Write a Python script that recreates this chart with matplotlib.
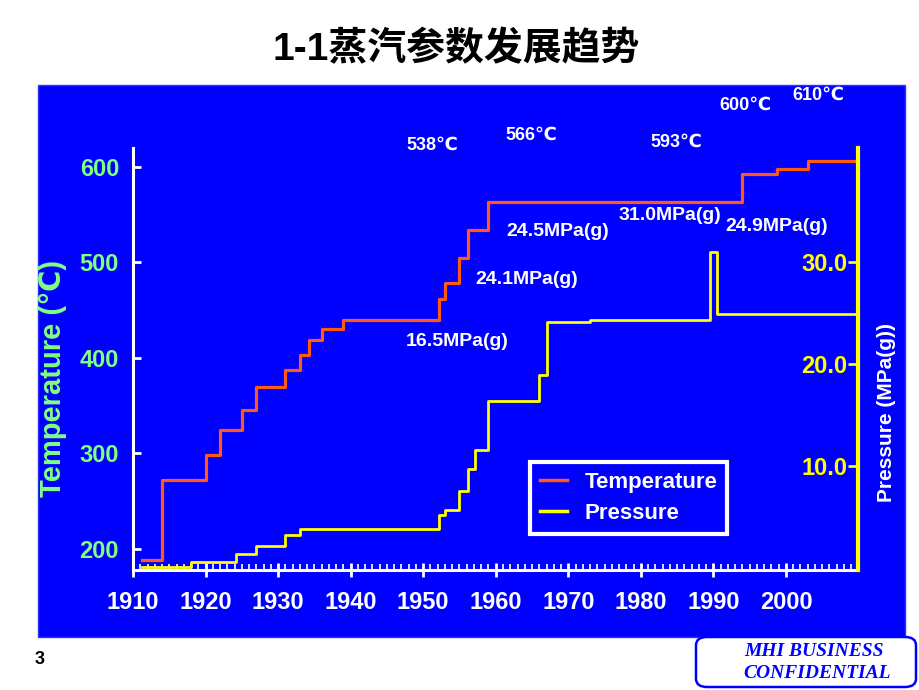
import matplotlib
matplotlib.use("Agg")
import matplotlib.pyplot as plt
from matplotlib.patches import Rectangle, FancyBboxPatch
from matplotlib.lines import Line2D
from matplotlib.ticker import MultipleLocator, FixedLocator

# ---------------- data ----------------
temp_years = [1911.2, 1914.0, 1920.0, 1922.0, 1925.0, 1927.0, 1931.0, 1933.0, 1934.2,
              1936.0, 1939.0, 1952.2, 1953.0, 1955.0, 1956.2, 1959.0, 1994.0, 1998.7,
              2003.1, 2009.6]
temp_vals = [188, 272, 298, 324, 345, 369, 387, 403, 419,
             430, 440, 461, 478, 504, 534, 563, 592, 598,
             606, 606]

press_years = [1911.2, 1918.0, 1924.2, 1927.0, 1931.0, 1933.0, 1952.2, 1953.0, 1955.0,
               1956.2, 1957.2, 1959.0, 1966.0, 1967.0, 1973.0, 1989.5, 1990.5, 2009.6]
press_vals = [0.0, 0.5, 1.3, 2.1, 3.2, 3.8, 5.1, 5.6, 7.5,
              9.7, 11.5, 16.4, 18.9, 24.1, 24.3, 31.0, 24.9, 24.9]

x_ticks = list(range(1910, 2001, 10))
temp_ticks = [200, 300, 400, 500, 600]
press_ticks = [10.0, 20.0, 30.0]

temp_labels = ["538℃", "566℃", "593℃", "600℃", "610℃"]
temp_label_pos = [(432, 145), (531, 135), (676, 142), (745, 105), (818, 95)]
press_labels = ["16.5MPa(g)", "24.1MPa(g)", "24.5MPa(g)", "31.0MPa(g)", "24.9MPa(g)"]
press_label_pos = [(457, 341), (527, 280), (558, 231), (670, 215), (777, 227)]

W, H = 920, 690
BLUE = "#0000FF"
ORANGE = "#FF5A14"
YELLOW = "#FFFF00"
GREEN = "#80FF80"
FONT = ["Liberation Sans", "DejaVu Sans"]

plt.rcParams["font.family"] = FONT
plt.rcParams["font.weight"] = "bold"


def fx(px):
    return px / W


def fy(py):
    return 1 - py / H


fig = plt.figure(figsize=(9.2, 6.9), dpi=100)
fig.patch.set_facecolor("white")

# blue panel
fig.add_artist(Rectangle((fx(38), fy(637)), fx(905) - fx(38), fy(85) - fy(637),
                         transform=fig.transFigure, facecolor=BLUE,
                         edgecolor="#3030FF", lw=1, zorder=-1))

# title
fig.text(fx(456), fy(50), "1-1蒸汽参数发展趋势", ha="center", va="center",
         fontsize=28, family=["Liberation Sans", "Noto Sans CJK SC"],
         weight="bold", color="black")

ax = fig.add_axes([fx(133), fy(570), fx(858.5) - fx(133), fy(148) - fy(570)])
ax.set_facecolor("none")
ax.step(temp_years, temp_vals, where="post", color=ORANGE, lw=2.3, zorder=3)
ax.set_xlim(1910, 2010)
ax.set_ylim(177.7, 619.6)

ax2 = ax.twinx()
ax2.step(press_years, press_vals, where="post", color=YELLOW, lw=2.0, zorder=3)
ax2.set_ylim(-0.26, 41.24)

for s in ["top", "right"]:
    ax.spines[s].set_visible(False)
for s in ["top", "left", "bottom"]:
    ax2.spines[s].set_visible(False)
ax.spines["left"].set_color("white")
ax.spines["left"].set_linewidth(2.2)
ax.spines["bottom"].set_color("white")
ax.spines["bottom"].set_linewidth(2.2)
ax2.spines["right"].set_color(YELLOW)
ax2.spines["right"].set_linewidth(3)

ax.set_xticks(x_ticks)
ax.set_xticklabels([str(t) for t in x_ticks])
ax.xaxis.set_minor_locator(MultipleLocator(1))
ax.tick_params(axis="x", which="major", direction="inout", length=10, width=2,
               color="white", labelcolor="white", labelsize=17, pad=10)
ax.tick_params(axis="x", which="minor", direction="in", length=4, width=1.2,
               color="white")
ax.set_yticks(temp_ticks)
ax.tick_params(axis="y", which="major", direction="in", length=6, width=2,
               color="white", labelcolor=GREEN, labelsize=17, pad=10)

ax2.yaxis.set_major_locator(FixedLocator(press_ticks))
ax2.set_yticklabels([f"{v:.1f}" for v in press_ticks])
ax2.tick_params(axis="y", which="major", direction="in", length=7, width=2,
                color=YELLOW, labelcolor=YELLOW, labelsize=17, pad=-8)
for lab in ax2.get_yticklabels():
    lab.set_horizontalalignment("right")

# axis titles
fig.text(fx(53), fy(378), "Temperature (℃)", rotation=90, ha="center", va="center",
         color=GREEN, fontsize=21, weight="bold", family=FONT)
fig.text(fx(887), fy(413), "Pressure (MPa(g))", rotation=90, ha="center", va="center",
         color="white", fontsize=15, weight="bold", family=FONT)

# annotations
for t, (px, py) in zip(temp_labels, temp_label_pos):
    fig.text(fx(px), fy(py), t, ha="center", va="center", color="white",
             fontsize=13, weight="bold", family=FONT)
for t, (px, py) in zip(press_labels, press_label_pos):
    fig.text(fx(px), fy(py), t, ha="center", va="center", color="white",
             fontsize=14, weight="bold", family=FONT)

# legend
handles = [Line2D([], [], color=ORANGE, lw=2.5), Line2D([], [], color=YELLOW, lw=2.5)]
leg = fig.legend(handles, ["Temperature", "Pressure"], loc="upper left",
                 bbox_to_anchor=(fx(530), fy(462)), frameon=True, fancybox=False,
                 facecolor=BLUE, edgecolor="white", framealpha=1,
                 fontsize=16, handlelength=1.2, handletextpad=0.8,
                 labelspacing=0.45, borderpad=0.45, borderaxespad=0)
leg.get_frame().set_linewidth(3)
for txt in leg.get_texts():
    txt.set_color("white")
    txt.set_fontweight("bold")

# footer
fig.text(fx(40), fy(660), "3", ha="center", va="center", fontsize=13,
         weight="bold", color="black")
fig.add_artist(FancyBboxPatch((fx(696), fy(687)), fx(916) - fx(696), fy(637) - fy(687),
                              boxstyle="round,pad=0,rounding_size=0.012",
                              transform=fig.transFigure, facecolor="white",
                              edgecolor=BLUE, lw=1.8))
fig.text(fx(814), fy(651), "MHI BUSINESS", ha="center", va="center", fontsize=14,
         family="Liberation Serif", style="italic", weight="bold", color=BLUE)
fig.text(fx(817), fy(673), "CONFIDENTIAL", ha="center", va="center", fontsize=14,
         family="Liberation Serif", style="italic", weight="bold", color=BLUE)

fig.savefig("out.png", dpi=100)
